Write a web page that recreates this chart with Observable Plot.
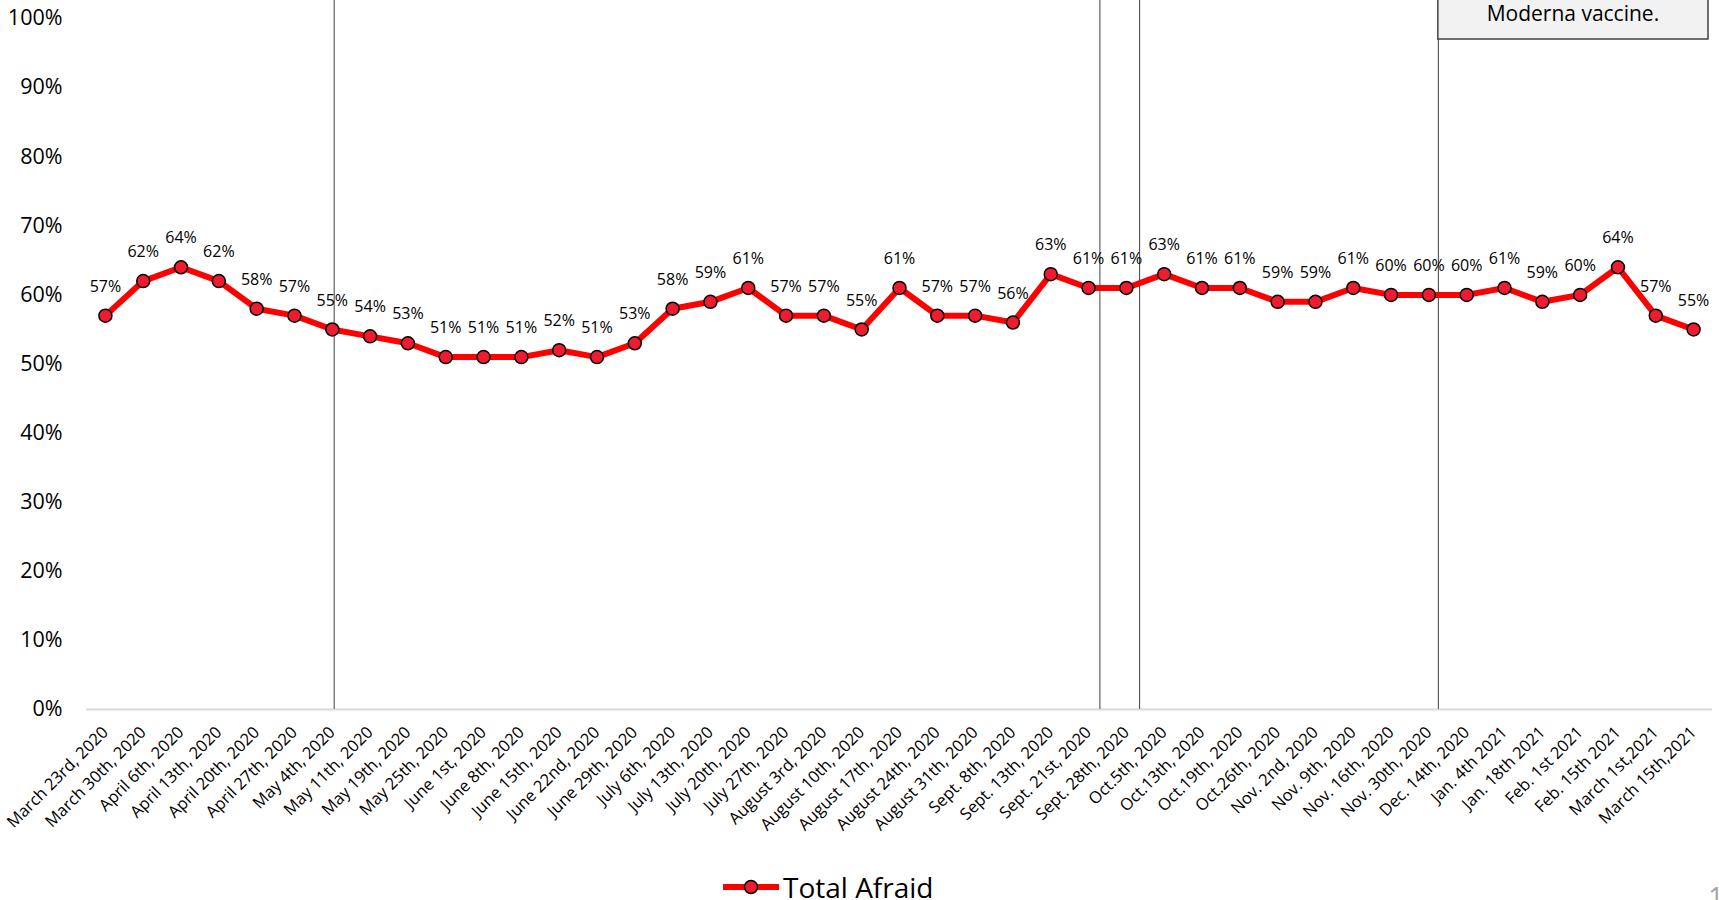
<!DOCTYPE html>
<html>
<head>
<meta charset="utf-8">
<script src="https://cdn.jsdelivr.net/npm/d3@7"></script>
<script src="https://cdn.jsdelivr.net/npm/@observablehq/plot@0.6"></script>
<style>
  html, body { margin: 0; padding: 0; background: #fff; overflow: hidden; }
  body { width: 1719px; height: 900px; position: relative; font-family: "Open Sans", sans-serif; }
  #chart svg { display: block; }
  .legend { position: absolute; left: 723px; top: 870px; height: 34px; display: flex; align-items: center; gap: 4px; font-size: 28px; line-height: 34px; color: #000; }
  .page-num { position: absolute; left: 1708px; top: 879px; font-size: 28px; line-height: 34px; color: #a6a6a6; }
</style>
</head>
<body>
<div id="chart"></div>
<div class="legend">
  <svg width="56" height="20"><line x1="0" x2="56" y1="10" y2="10" stroke="#ff0000" stroke-width="6" stroke-linecap="round"/><circle cx="28" cy="10" r="6.5" fill="#ee1c2e" stroke="#000" stroke-width="1.5"/></svg>
  <span>Total Afraid</span>
</div>
<div class="page-num">1</div>
<script>
// Weekly survey dates
const dates = [
  "March 23rd, 2020", "March 30th, 2020", "April 6th, 2020", "April 13th, 2020",
  "April 20th, 2020", "April 27th, 2020", "May 4th, 2020", "May 11th, 2020",
  "May 19th, 2020", "May 25th, 2020", "June 1st, 2020", "June 8th, 2020",
  "June 15th, 2020", "June 22nd, 2020", "June 29th, 2020", "July 6th, 2020",
  "July 13th, 2020", "July 20th, 2020", "July 27th, 2020", "August 3rd, 2020",
  "August 10th, 2020", "August 17th, 2020", "August 24th, 2020", "August 31th, 2020",
  "Sept. 8th, 2020", "Sept. 13th, 2020", "Sept. 21st, 2020", "Sept. 28th, 2020",
  "Oct.5th, 2020", "Oct.13th, 2020", "Oct.19th, 2020", "Oct.26th, 2020",
  "Nov. 2nd, 2020", "Nov. 9th, 2020", "Nov. 16th, 2020", "Nov. 30th, 2020",
  "Dec. 14th, 2020", "Jan. 4th 2021", "Jan. 18th 2021", "Feb. 1st 2021",
  "Feb. 15th 2021", "March 1st,2021", "March 15th,2021"
];

// Share of respondents who are afraid (%)
const totalAfraid = [
  57, 62, 64, 62, 58, 57, 55, 54, 53, 51, 51, 51, 52, 51, 53, 58, 59, 61, 57, 57,
  55, 61, 57, 57, 56, 63, 61, 61, 63, 61, 61, 59, 59, 61, 60, 60, 60, 61, 59, 60,
  64, 57, 55
];

// Percent axis ticks
const yTicks = [0, 10, 20, 30, 40, 50, 60, 70, 80, 90, 100];

// Event markers, placed between survey weeks (index units)
const eventMarks = [6.05, 26.3, 27.35];
const modernaMark = 35.25;
const modernaNote = "Moderna vaccine.";

const rows = dates.map((date, i) => ({i, date, value: totalAfraid[i]}));
const indexTicks = dates.map((d, i) => i);

const plot = Plot.plot({
  width: 1719,
  height: 866,
  marginTop: 18,
  marginBottom: 157,
  marginLeft: 86,
  marginRight: 7,
  style: {fontFamily: "Open Sans, sans-serif", color: "#000", background: "#fff"},
  x: {type: "linear", domain: [-0.5, dates.length - 0.5]},
  y: {domain: [0, 100]},
  marks: [
    Plot.axisX({ticks: indexTicks, tickFormat: i => dates[i], tickRotate: -45, tickSize: 0, tickPadding: 20, fontSize: 16.5, label: null}),
    Plot.axisY({ticks: yTicks, tickFormat: d => d + "%", tickSize: 0, tickPadding: 24, fontSize: 21.5, label: null}),
    Plot.ruleY([0], {stroke: "#d9d9d9", strokeWidth: 2}),
    // markers running up past the top of the frame
    Plot.ruleX(eventMarks, {x: d => d, y1: 100, y2: 0, insetTop: -18, stroke: "#404040", strokeWidth: 1}),
    // marker hanging from the annotation box
    Plot.ruleX([modernaMark], {x: d => d, y1: 100, y2: 0, insetTop: 21, stroke: "#404040", strokeWidth: 1}),
    Plot.line(rows, {x: "i", y: "value", stroke: "#ff0000", strokeWidth: 6, strokeLinejoin: "round"}),
    Plot.dot(rows, {x: "i", y: "value", r: 6.5, fill: "#ee1c2e", stroke: "#000", strokeWidth: 1.5}),
    Plot.text(rows, {x: "i", y: "value", text: d => d.value + "%", dy: -29, fontSize: 16, fill: "#000"})
  ]
});

document.getElementById("chart").appendChild(plot);

// Annotation box for the Moderna vaccine, hung from its marker line
const xs = plot.scale("x");
const boxLeft = xs.apply(modernaMark);
const boxRight = 1708;
const g = d3.select(plot).append("g");
g.append("rect")
  .attr("x", boxLeft).attr("y", -12)
  .attr("width", boxRight - boxLeft).attr("height", 51)
  .attr("fill", "#f2f2f2").attr("stroke", "#404040").attr("stroke-width", 1.5);
g.append("text")
  .attr("x", (boxLeft + boxRight) / 2).attr("y", 21)
  .attr("text-anchor", "middle")
  .attr("font-size", 21).attr("font-family", "Open Sans, sans-serif").attr("fill", "#000")
  .text(modernaNote);
</script>
</body>
</html>
